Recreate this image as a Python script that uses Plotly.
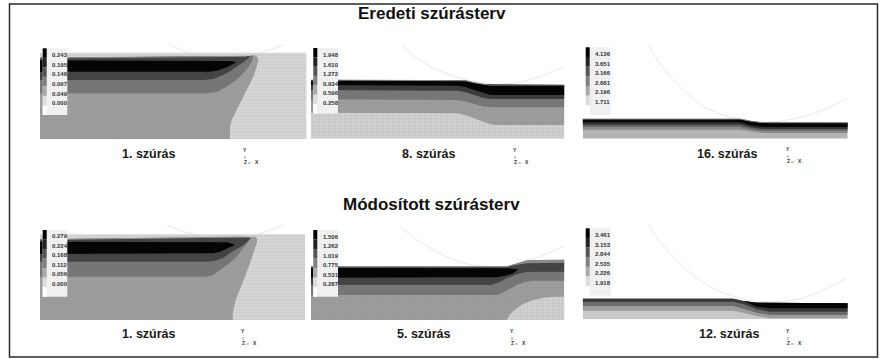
import plotly.graph_objects as go

W, H = 884, 359

# ---- texts -------------------------------------------------------------
TITLES = ["Eredeti szúrásterv", "Módosított szúrásterv"]
CAPTIONS = ["1. szúrás", "8. szúrás", "16. szúrás", "1. szúrás", "5. szúrás", "12. szúrás"]
LEGEND_VALUES = [
    ["0.243", "0.195", "0.146", "0.097", "0.049", "0.000"],
    ["1.948", "1.610", "1.272", "0.934", "0.596", "0.258"],
    ["4.136", "3.651", "3.166", "2.681", "2.196", "1.711"],
    ["0.279", "0.224", "0.168", "0.112", "0.056", "0.000"],
    ["1.506", "1.262", "1.019", "0.775", "0.531", "0.287"],
    ["3.461", "3.153", "2.844", "2.535", "2.226", "1.918"],
]
LEGEND_STEPS = ["#000000", "#222222", "#555555", "#808080", "#aaaaaa", "#dddddd", "#ffffff"]

# ---- band colours ------------------------------------------------------
LIGHT, MED, MID, DARK, BLACK = "#dadada", "#a0a0a0", "#767676", "#444444", "#050505"

# ---- panel 1: 1. szúrás (upper) ----------------------------------------
P1_WIDTH = 800
P1_TOP = 260
P1_MED_X = [0, 570, 570, 575, 585, 597, 610, 625, 640, 650, 655, 650, 640, 620, 0]
P1_MED_Y = [0, 0, 38, 58, 78, 103, 128, 158, 188, 218, 238, 250, 253, 250, 245]
P1_MID_X = [0, 500, 530, 560, 585, 610, 625, 635, 640, 620, 0]
P1_MID_Y = [138, 138, 142, 158, 175, 198, 217, 233, 250, 250, 245]
P1_DARK_X = [0, 490, 520, 550, 575, 600, 615, 625, 630, 600, 0]
P1_DARK_Y = [178, 178, 181, 193, 207, 223, 235, 243, 250, 249, 245]
P1_BLACK_X = [0, 510, 535, 560, 578, 590, 578, 560, 0]
P1_BLACK_Y = [203, 203, 207, 216, 225, 231, 234, 235, 237]
P1_EDGE_X = [0, 620]
P1_EDGE_Y = [244, 249]
P1_ARC_X = [390, 440, 480, None, 660, 730]
P1_ARC_Y = [283, 260, 253, None, 258, 283]

# ---- panel 2: 8. szúrás ------------------------------------------------
P2_WIDTH = 760
P2_X = [0, 440, 465, 490, 515, 535, 555, 760]
P2_TOP = [176, 176, 174, 168, 163, 161, 161, 161]
P2_B_MED = [78, 76, 70, 61, 50, 44, 41, 41]
P2_B_MID = [118, 116, 111, 104, 97, 95, 94, 94]
P2_B_DARK = [146, 144, 139, 131, 123, 120, 119, 119]
P2_B_BLACK = [161, 159, 154, 146, 137, 132, 131, 131]
P2_ARC_X = [272, 317, 367, 417, 467, 507, 557, 607, 647, 687, 757]
P2_ARC_Y = [281, 241, 211, 191, 176, 168, 163, 166, 174, 186, 216]

# ---- panel 3: 16. szúrás -----------------------------------------------
P3_WIDTH = 795
P3_X = [0, 472, 502, 532, 562, 795]
P3_TOP = [59, 59, 53, 49, 48, 48]
P3_B_1 = [27, 27, 22, 18, 17, 17]
P3_B_2 = [35, 35, 28, 24, 23, 23]
P3_B_3 = [42, 42, 34, 30, 29, 29]
P3_B_4 = [49, 49, 40, 36, 35, 35]
P3_ARC_X = [197, 227, 262, 312, 362, 412, 462, 522, 582, 642, 682, 742, 792]
P3_ARC_Y = [281, 231, 186, 136, 96, 73, 61, 49, 51, 61, 71, 94, 121]

# ---- panel 4: 1. szúrás (lower) ----------------------------------------
P4_WIDTH = 795
P4_TOP = 257
P4_MED_X = [0, 578, 578, 580, 587, 600, 615, 630, 642, 650, 652, 645, 610, 0]
P4_MED_Y = [0, 0, 15, 30, 60, 90, 130, 170, 205, 230, 243, 250, 250, 242]
P4_MID_X = [0, 500, 520, 540, 565, 590, 610, 625, 632, 610, 0]
P4_MID_Y = [130, 130, 135, 150, 168, 190, 214, 235, 248, 248, 242]
P4_DARK_X = [0, 500, 525, 550, 570, 590, 610, 625, 632, 610, 0]
P4_DARK_Y = [175, 175, 178, 187, 200, 212, 225, 238, 246, 247, 242]
P4_BLACK_X = [0, 500, 520, 540, 557, 570, 585, 572, 560, 0]
P4_BLACK_Y = [198, 198, 200, 205, 212, 218, 225, 230, 233, 235]
P4_EDGE_X = [0, 610]
P4_EDGE_Y = [241, 249]
P4_ARC_X = [380, 430, 490, None, 650, 730]
P4_ARC_Y = [285, 265, 250, None, 255, 285]

# ---- panel 5: 5. szúrás ------------------------------------------------
P5_WIDTH = 760
P5_TOP_X = [0, 587, 617, 647, 760]
P5_TOP_Y = [160, 160, 168, 178, 180]
P5_LIGHT_X = [587, 597, 617, 640, 667, 697, 727, 760, 760]
P5_LIGHT_Y = [0, 17, 35, 50, 60, 67, 70, 70, 0]
P5_MID_X = [0, 560, 580, 600, 617, 640, 667, 760]
P5_MID_Y = [75, 75, 85, 97, 105, 113, 118, 118]
P5_DARK_X = [0, 540, 565, 587, 607, 627, 650, 677, 760]
P5_DARK_Y = [105, 105, 113, 125, 133, 140, 144, 145, 145]
P5_STRIP_X = [600, 647, 760, 760, 647]
P5_STRIP_Y = [163, 178, 180, 172, 170]
P5_BLACK_X = [0, 530, 555, 580, 595, 607, 622, 605, 590, 0]
P5_BLACK_Y = [127, 127, 128, 132, 136, 140, 152, 154, 155, 156]
P5_ARC_X = [267, 317, 367, 417, 467, 527, None, 607, 647, 687, 757]
P5_ARC_Y = [280, 240, 210, 185, 168, 160, None, 165, 178, 190, 220]

# ---- panel 6: 12. szúrás -----------------------------------------------
P6_WIDTH = 795
P6_X = [0, 452, 482, 522, 562, 795]
P6_TOP = [62, 62, 55, 50, 48, 48]
P6_B_1 = [26, 26, 20, 10, 3, 3]
P6_B_2 = [40, 40, 32, 20, 13, 13]
P6_B_3 = [53, 53, 46, 30, 23, 23]
P6_B_4 = [62, 62, 55, 38, 33, 33]
P6_ARC_X = [197, 227, 262, 312, 362, 412, 462, 522, 602, 662, 722, 792]
P6_ARC_Y = [283, 238, 198, 148, 108, 83, 66, 53, 53, 63, 88, 123]

# ---- page layout (pixels) ----------------------------------------------
UNIT = 3.0  # data units per pixel
PANEL_LEFT = [40.0, 311.0, 582.7, 40.0, 311.0, 582.7]
PANEL_BOTTOM = [139.3, 138.7, 138.7, 320.0, 320.0, 319.3]
PANEL_HEIGHT = 95.0
WIDTHS = [P1_WIDTH, P2_WIDTH, P3_WIDTH, P4_WIDTH, P5_WIDTH, P6_WIDTH]

LEG_BAR_X = [42.7, 313.3, 585.7, 42.7, 313.3, 585.7]
LEG_BOX_R = [67.3, 338.0, 610.7, 67.3, 338.0, 610.7]
LEG_TOP = [48.3, 48.0, 47.3, 230.0, 230.0, 228.3]
LEG_BOT = [115.0, 113.5, 115.0, 296.7, 296.7, 295.7]
LEG_TXT_X = [50.0, 321.0, 592.7, 50.0, 320.7, 592.7]
LEG_TXT_Y0 = [55.3, 55.0, 54.0, 236.0, 236.7, 235.0]
LEG_TXT_DY = 9.55

CAP_X = [149, 429, 727, 149, 424, 729.5]
CAP_Y = [154, 153.5, 154, 334, 334, 334]
TRI_X = [245, 515, 788, 243, 512, 788]
TRI_Y = [150, 150, 149, 331, 331, 331]

fig = go.Figure()


def xy(i):
    s = "" if i == 0 else str(i + 1)
    return "x" + s, "y" + s


def poly(i, xs, ys, color, grid=None):
    xa, ya = xy(i)
    kw = {}
    if grid:
        kw["fillpattern"] = dict(shape="+", size=3.2, solidity=0.22, fgcolor=grid, bgcolor=color, fillmode="replace")
    fig.add_trace(go.Scatter(x=list(xs) + [xs[0]], y=list(ys) + [ys[0]], mode="lines", fill="toself",
                             fillcolor=color, line=dict(width=0), hoverinfo="skip",
                             showlegend=False, xaxis=xa, yaxis=ya, **kw))


def line(i, xs, ys, color, width=1.0):
    xa, ya = xy(i)
    fig.add_trace(go.Scatter(x=xs, y=ys, mode="lines", line=dict(color=color, width=width),
                             hoverinfo="skip", showlegend=False, xaxis=xa, yaxis=ya))


def band(i, xs, bottom, top, color, grid=None):
    poly(i, list(xs) + list(xs)[::-1], list(bottom) + list(top)[::-1], color, grid)


ARC = "#e8e8e8"
EDGE = "#8c8c8c"

# panel 1
line(0, P1_ARC_X, P1_ARC_Y, ARC)
poly(0, [0, P1_WIDTH, P1_WIDTH, 0], [0, 0, P1_TOP, P1_TOP], LIGHT, "#b4b4b4")
poly(0, P1_MED_X, P1_MED_Y, MED, "#888888")
poly(0, P1_MID_X, P1_MID_Y, MID)
poly(0, P1_DARK_X, P1_DARK_Y, DARK)
poly(0, P1_BLACK_X, P1_BLACK_Y, BLACK)
line(0, P1_EDGE_X, P1_EDGE_Y, EDGE)

# panel 2
line(1, P2_ARC_X, P2_ARC_Y, ARC)
band(1, P2_X, [0] * len(P2_X), P2_TOP, "#d4d4d4", "#b0b0b0")
band(1, P2_X, P2_B_MED, P2_TOP, MED, "#888888")
band(1, P2_X, P2_B_MID, P2_TOP, MID)
band(1, P2_X, P2_B_DARK, P2_TOP, "#3c3c3c")
band(1, P2_X, P2_B_BLACK, P2_TOP, BLACK)
line(1, P2_X, P2_TOP, EDGE)

# panel 3
line(2, P3_ARC_X, P3_ARC_Y, ARC)
band(2, P3_X, [0] * len(P3_X), P3_TOP, "#b4b4b4")
band(2, P3_X, P3_B_1, P3_TOP, "#8c8c8c")
band(2, P3_X, P3_B_2, P3_TOP, "#666666")
band(2, P3_X, P3_B_3, P3_TOP, "#333333")
band(2, P3_X, P3_B_4, P3_TOP, BLACK)
line(2, P3_X, P3_TOP, EDGE)

# panel 4
line(3, P4_ARC_X, P4_ARC_Y, ARC)
poly(3, [0, P4_WIDTH, P4_WIDTH, 0], [0, 0, P4_TOP, P4_TOP], LIGHT, "#b4b4b4")
poly(3, P4_MED_X, P4_MED_Y, MED, "#888888")
poly(3, P4_MID_X, P4_MID_Y, MID)
poly(3, P4_DARK_X, P4_DARK_Y, DARK)
poly(3, P4_BLACK_X, P4_BLACK_Y, BLACK)
line(3, P4_EDGE_X, P4_EDGE_Y, EDGE)

# panel 5
line(4, P5_ARC_X, P5_ARC_Y, ARC)
poly(4, [0] + P5_TOP_X + [P5_WIDTH], [0] + P5_TOP_Y + [0], MED, "#888888")
poly(4, P5_LIGHT_X, P5_LIGHT_Y, "#d4d4d4", "#b0b0b0")
poly(4, P5_MID_X + P5_TOP_X[::-1], P5_MID_Y + P5_TOP_Y[::-1], MID)
poly(4, P5_DARK_X + P5_TOP_X[::-1], P5_DARK_Y + P5_TOP_Y[::-1], DARK)
poly(4, P5_STRIP_X, P5_STRIP_Y, "#8a8a8a")
poly(4, P5_BLACK_X, P5_BLACK_Y, BLACK)
line(4, P5_TOP_X, P5_TOP_Y, EDGE)

# panel 6
line(5, P6_ARC_X, P6_ARC_Y, ARC)
band(5, P6_X, [0] * len(P6_X), P6_TOP, "#c8c8c8")
band(5, P6_X, P6_B_1, P6_TOP, "#9c9c9c")
band(5, P6_X, P6_B_2, P6_TOP, "#6c6c6c")
band(5, P6_X, P6_B_3, P6_TOP, "#383838")
band(5, P6_X, P6_B_4, P6_TOP, BLACK)

layout = dict(width=W, height=H, margin=dict(l=0, r=0, t=0, b=0), paper_bgcolor="white",
              plot_bgcolor="rgba(0,0,0,0)", showlegend=False)


def px(x):
    return x / W


def py(y):
    return 1 - y / H


for i in range(6):
    s = "" if i == 0 else str(i + 1)
    left, bottom = PANEL_LEFT[i], PANEL_BOTTOM[i]
    w_px = WIDTHS[i] / UNIT
    common = dict(visible=False, fixedrange=True)
    layout["xaxis" + s] = dict(domain=[px(left), px(left + w_px)], range=[0, WIDTHS[i]],
                               anchor="y" + s, **common)
    layout["yaxis" + s] = dict(domain=[py(bottom), py(bottom - PANEL_HEIGHT)],
                               range=[0, PANEL_HEIGHT * UNIT], anchor="x" + s, **common)

shapes, ann = [], []


def rect(x0, y0, x1, y1, fill, line_color=None, lw=0):
    shapes.append(dict(type="rect", xref="paper", yref="paper", x0=px(x0), x1=px(x1), y0=py(y1), y1=py(y0),
                       fillcolor=fill, line=dict(color=line_color or fill, width=lw)))


def text(x, y, s, size, anchor="center", color="#1a1a1a", bold=True):
    ann.append(dict(xref="paper", yref="paper", x=px(x), y=py(y), text=f"<b>{s}</b>" if bold else s,
                    showarrow=False, xanchor=anchor, yanchor="middle",
                    font=dict(family="Liberation Sans", size=size, color=color)))


for i in range(6):
    rect(LEG_BAR_X[i], LEG_TOP[i], LEG_BOX_R[i], LEG_BOT[i], "#f0f0f0")
    step = (LEG_BOT[i] - LEG_TOP[i]) / len(LEGEND_STEPS)
    for k, c in enumerate(LEGEND_STEPS):
        rect(LEG_BAR_X[i], LEG_TOP[i] + k * step, LEG_BAR_X[i] + 4, LEG_TOP[i] + (k + 1) * step, c)
    for k, v in enumerate(LEGEND_VALUES[i]):
        text(LEG_TXT_X[i], LEG_TXT_Y0[i] + k * LEG_TXT_DY, v, 6, anchor="left", color="#333333")
    text(CAP_X[i], CAP_Y[i], CAPTIONS[i], 12.5)
    tx, ty = TRI_X[i], TRI_Y[i]
    text(tx, ty, "Y", 5, color="#333333")
    text(tx, ty + 12, "Z", 5, color="#333333")
    text(tx + 12, ty + 12, "X", 5, color="#333333")
    shapes.append(dict(type="line", xref="paper", yref="paper", x0=px(tx), x1=px(tx), y0=py(ty + 9), y1=py(ty + 3),
                       line=dict(color="#999999", width=1, dash="dot")))
    shapes.append(dict(type="line", xref="paper", yref="paper", x0=px(tx + 3), x1=px(tx + 9), y0=py(ty + 13),
                       y1=py(ty + 13), line=dict(color="#999999", width=1, dash="dot")))

text(431.5, 14, TITLES[0], 17, color="#111111")
text(431.5, 204, TITLES[1], 17, color="#111111")

# outer frame
shapes.append(dict(type="rect", xref="paper", yref="paper", x0=px(9.5), x1=px(877.5), y0=py(357), y1=py(4),
                   line=dict(color="#2a2a2a", width=1.5), fillcolor="rgba(0,0,0,0)"))

layout["shapes"] = shapes
layout["annotations"] = ann
fig.update_layout(**layout)
fig.write_html("out.html", config=dict(displayModeBar=False, staticPlot=True),
               post_script="document.body.style.margin='0';document.body.style.overflow='hidden';")
